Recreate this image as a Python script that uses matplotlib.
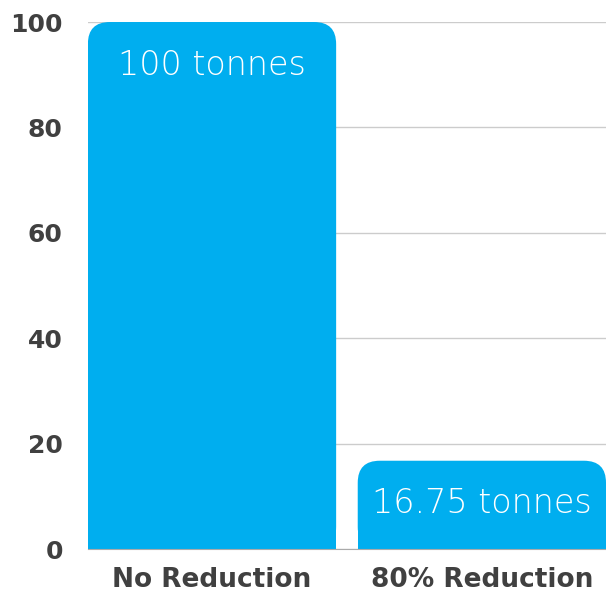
import matplotlib.pyplot as plt
from matplotlib.patches import FancyBboxPatch, Rectangle

categories = ["No Reduction", "80% Reduction"]
values = [100, 16.75]
labels = ["100 tonnes", "16.75 tonnes"]

bar_color = "#00AEEF"
text_color = "#404040"

plt.rcParams["font.family"] = ["DejaVu Sans"]

fig = plt.figure(figsize=(6.06, 5.95), dpi=100)
ax = fig.add_axes([0.145, 0.0773, 0.855, 0.8857])

xs = list(range(len(categories)))
width = 0.92
ax.set_xlim(-0.46, 1.46)
ax.set_ylim(0, 100)

# rounded top corners: compute aspect so the radius looks round in pixels
fig.canvas.draw()
bbox = ax.get_window_extent()
px_x = bbox.width / (1.46 + 0.46)
px_y = bbox.height / 100
radius_px = 22
r = radius_px / px_x
aspect = px_x / px_y

for x, v, lab in zip(xs, values, labels):
    left = x - width / 2
    ax.add_patch(FancyBboxPatch((left, 0), width, v,
                                boxstyle=f"round,pad=0,rounding_size={r}",
                                mutation_aspect=aspect, fc=bar_color, ec="none", zorder=3))
    ax.add_patch(Rectangle((left, 0), width, v / 2, fc=bar_color, ec="none", zorder=3))
    ax.annotate(lab, (x, v), xytext=(0, -31), textcoords="offset points",
                ha="center", va="center", color="white", fontsize=24,
                fontweight="light", zorder=4)

ax.set_xticks(xs)
ax.set_xticklabels(categories)
ax.set_yticks([0, 20, 40, 60, 80, 100])
ax.tick_params(axis="y", length=0, pad=18, labelsize=18, labelcolor=text_color)
ax.tick_params(axis="x", length=0, pad=13, labelsize=19, labelcolor=text_color)
for t in ax.get_xticklabels() + ax.get_yticklabels():
    t.set_fontweight("bold")

ax.grid(axis="y", color="#cccccc", linewidth=1, zorder=0)
for s in ["top", "right", "left"]:
    ax.spines[s].set_visible(False)
ax.spines["bottom"].set_color("#aaaaaa")
ax.spines["bottom"].set_zorder(5)

fig.savefig("out.png", dpi=100)
